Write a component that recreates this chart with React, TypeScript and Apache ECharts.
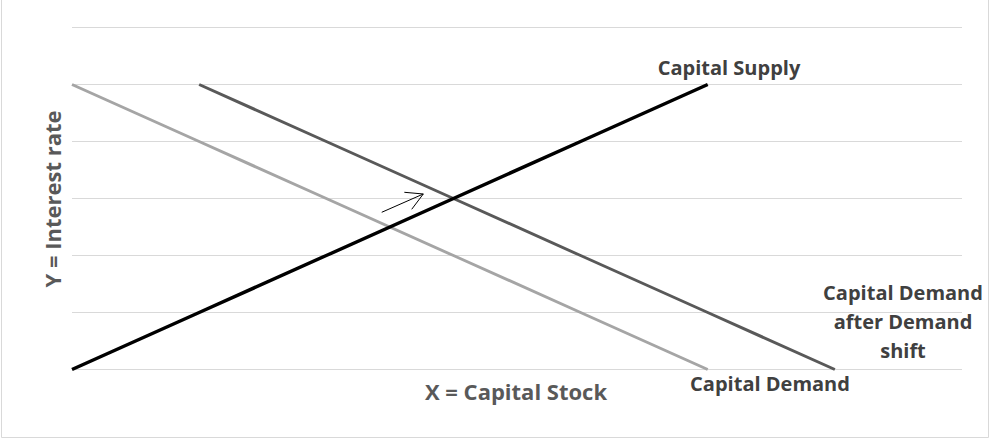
import React, { useEffect, useRef } from "react";
import * as echarts from "echarts";

// Capital stock positions (x) and interest-rate values (y)
const supplyX = [0, 1, 2, 3, 4, 5];
const supplyY = [0, 1, 2, 3, 4, 5];
const demandX = [0, 1, 2, 3, 4, 5];
const demandY = [5, 4, 3, 2, 1, 0];
const shiftedX = [1, 2, 3, 4, 5, 6];
const shiftedY = [5, 4, 3, 2, 1, 0];
// small arrow annotation (shaft, then open head)
const arrowShaft = [[2.436, 2.758], [2.763, 3.079]];
const arrowHead = [[2.614, 3.109], [2.763, 3.079], [2.672, 2.811]];

const yTicks = [0, 1, 2, 3, 4, 5, 6];

const FONT = "'Open Sans', 'Noto Sans', sans-serif";

export default function App() {
  const ref = useRef<HTMLDivElement>(null);
  useEffect(() => {
    if (!ref.current) return;
    const chart = echarts.init(ref.current, undefined, { renderer: "svg" });
    const pairs = (xs: number[], ys: number[]) => xs.map((x, i) => [x, ys[i]]);
    chart.setOption({
      animation: false,
      backgroundColor: "#ffffff",
      grid: { left: 72, right: 28, top: 27.5, bottom: 69.5 },
      xAxis: {
        type: "value",
        min: 0,
        max: 7,
        interval: 1,
        axisLine: { show: false },
        axisTick: { show: false },
        axisLabel: { show: false },
        splitLine: { show: false },
      },
      yAxis: {
        type: "value",
        min: yTicks[0],
        max: yTicks[yTicks.length - 1],
        interval: 1,
        axisLine: { show: false },
        axisTick: { show: false },
        axisLabel: { show: false },
        splitLine: { show: true, lineStyle: { color: "#D9D9D9", width: 1 } },
      },
      series: [
        {
          name: "Capital Demand",
          type: "line",
          data: pairs(demandX, demandY),
          showSymbol: false,
          lineStyle: { color: "#A5A5A5", width: 3 },
        },
        {
          name: "Capital Demand after Demand shift",
          type: "line",
          data: pairs(shiftedX, shiftedY),
          showSymbol: false,
          lineStyle: { color: "#595959", width: 3 },
        },
        {
          name: "Capital Supply",
          type: "line",
          data: pairs(supplyX, supplyY),
          showSymbol: false,
          lineStyle: { color: "#000000", width: 3.5 },
        },
        {
          name: "arrowShaft",
          type: "line",
          data: arrowShaft,
          showSymbol: false,
          lineStyle: { color: "#000000", width: 1 },
        },
        {
          name: "arrowHead",
          type: "line",
          data: arrowHead,
          showSymbol: false,
          lineStyle: { color: "#000000", width: 1 },
        },
      ],
      graphic: [
        {
          type: "rect",
          shape: { x: 1.5, y: -5, width: 987, height: 442.5 },
          style: { fill: "none", stroke: "#D9D9D9", lineWidth: 1 },
          silent: true,
        },
        {
          type: "text",
          x: 729,
          y: 67,
          style: {
            text: "Capital Supply",
            font: `bold 20px ${FONT}`,
            fill: "#404040",
            align: "center",
            verticalAlign: "middle",
          },
        },
        {
          type: "text",
          x: 770,
          y: 383,
          style: {
            text: "Capital Demand",
            font: `bold 20px ${FONT}`,
            fill: "#404040",
            align: "center",
            verticalAlign: "middle",
          },
        },
        {
          type: "text",
          x: 903,
          y: 321,
          style: {
            text: "Capital Demand\nafter Demand\nshift",
            font: `bold 20px ${FONT}`,
            lineHeight: 29,
            fill: "#404040",
            align: "center",
            verticalAlign: "middle",
          },
        },
        {
          type: "text",
          x: 516,
          y: 391,
          style: {
            text: "X = Capital Stock",
            font: `bold 22px ${FONT}`,
            fill: "#595959",
            align: "center",
            verticalAlign: "middle",
          },
        },
        {
          type: "text",
          x: 52,
          y: 199,
          rotation: Math.PI / 2,
          style: {
            text: "Y = Interest rate",
            font: `bold 22px ${FONT}`,
            fill: "#595959",
            align: "center",
            verticalAlign: "middle",
          },
        },
      ],
    });
    return () => chart.dispose();
  }, []);
  return (
    <div
      ref={ref}
      style={{ position: "absolute", left: 0, top: 0, width: 990, height: 439 }}
    />
  );
}
